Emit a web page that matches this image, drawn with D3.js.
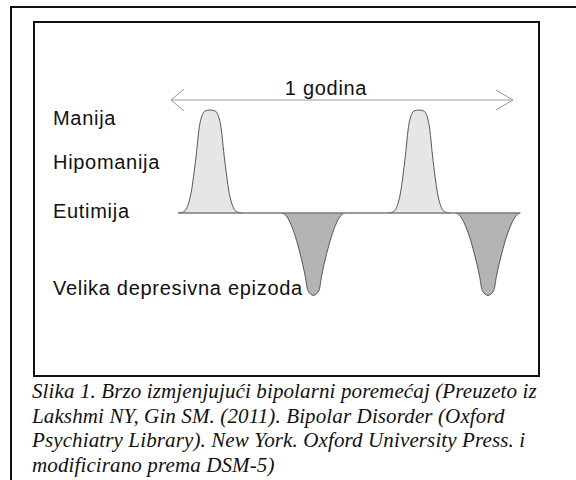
<!DOCTYPE html>
<html>
<head>
<meta charset="utf-8">
<script src="https://cdn.jsdelivr.net/npm/d3@7"></script>
<style>
    body { margin: 0; background: #fff; }
    svg { display: block; }
    .label { font-family: "Liberation Sans", Arial, sans-serif; font-size: 20px; letter-spacing: 0.7px; fill: #111; }
    .caption { font-family: "Liberation Serif", "Times New Roman", serif; font-style: italic; font-size: 21px; letter-spacing: 0.12px; fill: #111; }
</style>
</head>
<body>
<div id="chart"></div>
<script>
// Mood levels (labels on the left)
const moodLabels = ["Manija", "Hipomanija", "Eutimija", "Velika depresivna epizoda"];
const moodLevels = [0.92, 0.5, 0.02, -0.73];

// Episodes, time in weeks (1 godina = 52 weeks)
const episodeTypes = ["manija", "depresija", "manija", "depresija"];
const episodeStart = [1.1, 16.9, 33.0, 43.3];
const episodeEnd = [10.8, 26.4, 42.4, 53.1];
const episodePeak = [1, -0.8, 1, -0.8];

// Shape of one episode (t across the episode, share of peak)
const maniaProfileT = [0, 0.08, 0.19, 0.27, 0.34, 0.42, 0.5, 0.58, 0.66, 0.73, 0.81, 0.92, 1];
const maniaProfileV = [0, 0.01, 0.16, 0.5, 0.87, 0.99, 1, 0.99, 0.87, 0.5, 0.16, 0.01, 0];
const deprProfileT = [0, 0.06, 0.13, 0.29, 0.37, 0.41, 0.5, 0.59, 0.63, 0.71, 0.87, 0.94, 1];
const deprProfileV = [0, 0.03, 0.12, 0.5, 0.77, 0.94, 1, 0.94, 0.77, 0.5, 0.12, 0.03, 0];

const yearSpan = [0, 52];
const yearLabel = "1 godina";
const baselineSpan = [1.1, 53.1];

const captionLines = [
    "Slika 1. Brzo izmjenjujući bipolarni poremećaj (Preuzeto iz",
    "Lakshmi NY, Gin SM. (2011). Bipolar Disorder (Oxford",
    "Psychiatry Library). New York. Oxford University Press. i",
    "modificirano prema DSM-5)"
];

const W = 576, H = 480;
const svg = d3.select("#chart").append("svg")
    .attr("width", W)
    .attr("height", H);

// Frames
svg.append("path")
    .attr("d", `M11,${H} L11,7 L${W},7`)
    .attr("fill", "none")
    .attr("stroke", "#111")
    .attr("stroke-width", 2);

svg.append("rect")
    .attr("x", 34).attr("y", 22)
    .attr("width", 505).attr("height", 354)
    .attr("fill", "none")
    .attr("stroke", "#111")
    .attr("stroke-width", 2);

// Scales
const x = d3.scaleLinear().domain(yearSpan).range([171, 513]);
const y = d3.scaleLinear().domain([-1, 1]).range([316, 110]);

// Year arrow
const arrowY = 100;
svg.append("line")
    .attr("x1", x(yearSpan[0])).attr("x2", x(yearSpan[1]))
    .attr("y1", arrowY).attr("y2", arrowY)
    .attr("stroke", "#999").attr("stroke-width", 1);

svg.append("path")
    .attr("d", `M${x(yearSpan[0]) + 13},${arrowY - 11} L${x(yearSpan[0])},${arrowY} L${x(yearSpan[0]) + 13},${arrowY + 11}`)
    .attr("fill", "none").attr("stroke", "#999").attr("stroke-width", 1);

svg.append("path")
    .attr("d", `M${x(yearSpan[1]) - 17},${arrowY - 10} L${x(yearSpan[1])},${arrowY} L${x(yearSpan[1]) - 17},${arrowY + 10}`)
    .attr("fill", "none").attr("stroke", "#999").attr("stroke-width", 1);

svg.append("text")
    .attr("class", "label")
    .attr("x", 326)
    .attr("y", 95)
    .attr("text-anchor", "middle")
    .text(yearLabel);

// Mood labels
svg.selectAll(".mood")
    .data(moodLabels)
    .enter()
    .append("text")
    .attr("class", "label mood")
    .attr("x", 53)
    .attr("y", (d, i) => y(moodLevels[i]))
    .attr("dy", "0.35em")
    .text(d => d);

// Episodes
const area = d3.area()
    .x(d => x(d.t))
    .y0(y(0))
    .y1(d => y(d.v))
    .curve(d3.curveMonotoneX);

const line = d3.line()
    .x(d => x(d.t))
    .y(d => y(d.v))
    .curve(d3.curveMonotoneX);

const episodes = episodeTypes.map((type, i) => {
    const pt = type === "manija" ? maniaProfileT : deprProfileT;
    const pv = type === "manija" ? maniaProfileV : deprProfileV;
    const span = episodeEnd[i] - episodeStart[i];
    return {
        type: type,
        points: pt.map((t, j) => ({ t: episodeStart[i] + t * span, v: pv[j] * episodePeak[i] }))
    };
});

const epG = svg.selectAll(".episode")
    .data(episodes)
    .enter()
    .append("g")
    .attr("class", "episode");

epG.append("path")
    .attr("d", d => area(d.points))
    .attr("fill", d => d.type === "manija" ? "#e6e6e6" : "#b4b4b4");

epG.append("path")
    .attr("d", d => line(d.points))
    .attr("fill", "none")
    .attr("stroke", "#555")
    .attr("stroke-width", 1);

// Euthymia baseline
svg.append("line")
    .attr("x1", x(baselineSpan[0])).attr("x2", x(baselineSpan[1]))
    .attr("y1", y(0)).attr("y2", y(0))
    .attr("stroke", "#7a7a7a")
    .attr("stroke-width", 1.5);

// Caption
svg.selectAll(".caption")
    .data(captionLines)
    .enter()
    .append("text")
    .attr("class", "caption")
    .attr("x", 32)
    .attr("y", (d, i) => 398 + i * 24.7)
    .text(d => d);
</script>
</body>
</html>
